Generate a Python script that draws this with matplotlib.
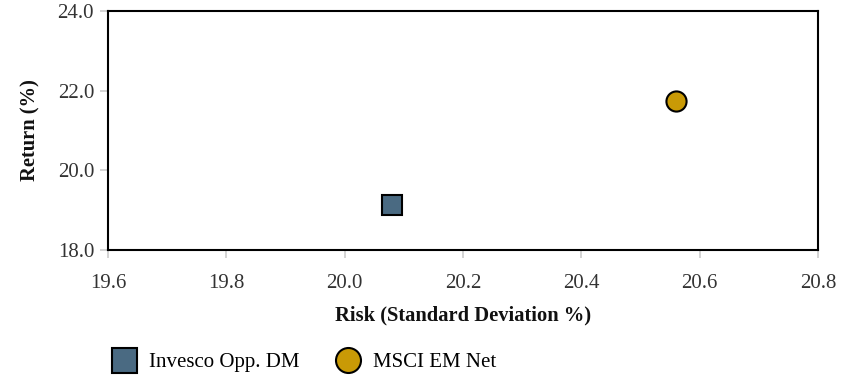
import matplotlib
matplotlib.use("Agg")
import matplotlib.pyplot as plt
from matplotlib.lines import Line2D

# Data
NAMES = ["Invesco Opp. DM", "MSCI EM Net"]
RISK = [20.08, 20.56]
RETURN = [19.14, 21.73]
MARKERS = ["s", "o"]
COLORS = ["#4a6a82", "#c99a06"]

X_TICKS = [19.6, 19.8, 20.0, 20.2, 20.4, 20.6, 20.8]
Y_TICKS = [18.0, 20.0, 22.0, 24.0]

plt.rcParams["font.family"] = ["Liberation Serif", "DejaVu Serif"]

fig = plt.figure(figsize=(8.55, 3.78), dpi=100)
ax = fig.add_axes([0.1263, 0.3386, 0.8304, 0.6324])

for name, x, y, m, c in zip(NAMES, RISK, RETURN, MARKERS, COLORS):
    ax.plot(x, y, marker=m, markersize=15 if m == "s" else 14.5, color=c,
            markeredgecolor="black", markeredgewidth=1.5, linestyle="none",
            zorder=3)

ax.set_xlim(19.6, 20.8)
ax.set_ylim(18.0, 24.0)
ax.set_xticks(X_TICKS)
ax.set_yticks(Y_TICKS)
ax.set_xticklabels(["%.1f" % v for v in X_TICKS])
ax.set_yticklabels(["%.1f" % v for v in Y_TICKS])
ax.tick_params(axis="both", colors="#cccccc", labelcolor="#333333",
               labelsize=15, length=6, width=1.2)
ax.tick_params(axis="x", pad=11)
ax.tick_params(axis="y", pad=4)

for sp in ax.spines.values():
    sp.set_linewidth(1.5)
    sp.set_color("black")

ax.set_xlabel("Risk (Standard Deviation %)", fontsize=14.8, fontweight="bold",
              labelpad=9, color="#111111")
ax.set_ylabel("Return (%)", fontsize=14.8, fontweight="bold", labelpad=12,
              color="#111111")

handles = [Line2D([], [], marker=m, color=c, markeredgecolor="black",
                  markeredgewidth=1.5, linestyle="none", markersize=18)
           for m, c in zip(MARKERS, COLORS)]
fig.legend(handles, NAMES, loc="center left", bbox_to_anchor=(0.108, 0.042),
           ncol=2, frameon=False, fontsize=15, handletextpad=0.6,
           columnspacing=1.75, handlelength=1.2)

fig.savefig("out.png", dpi=100)
